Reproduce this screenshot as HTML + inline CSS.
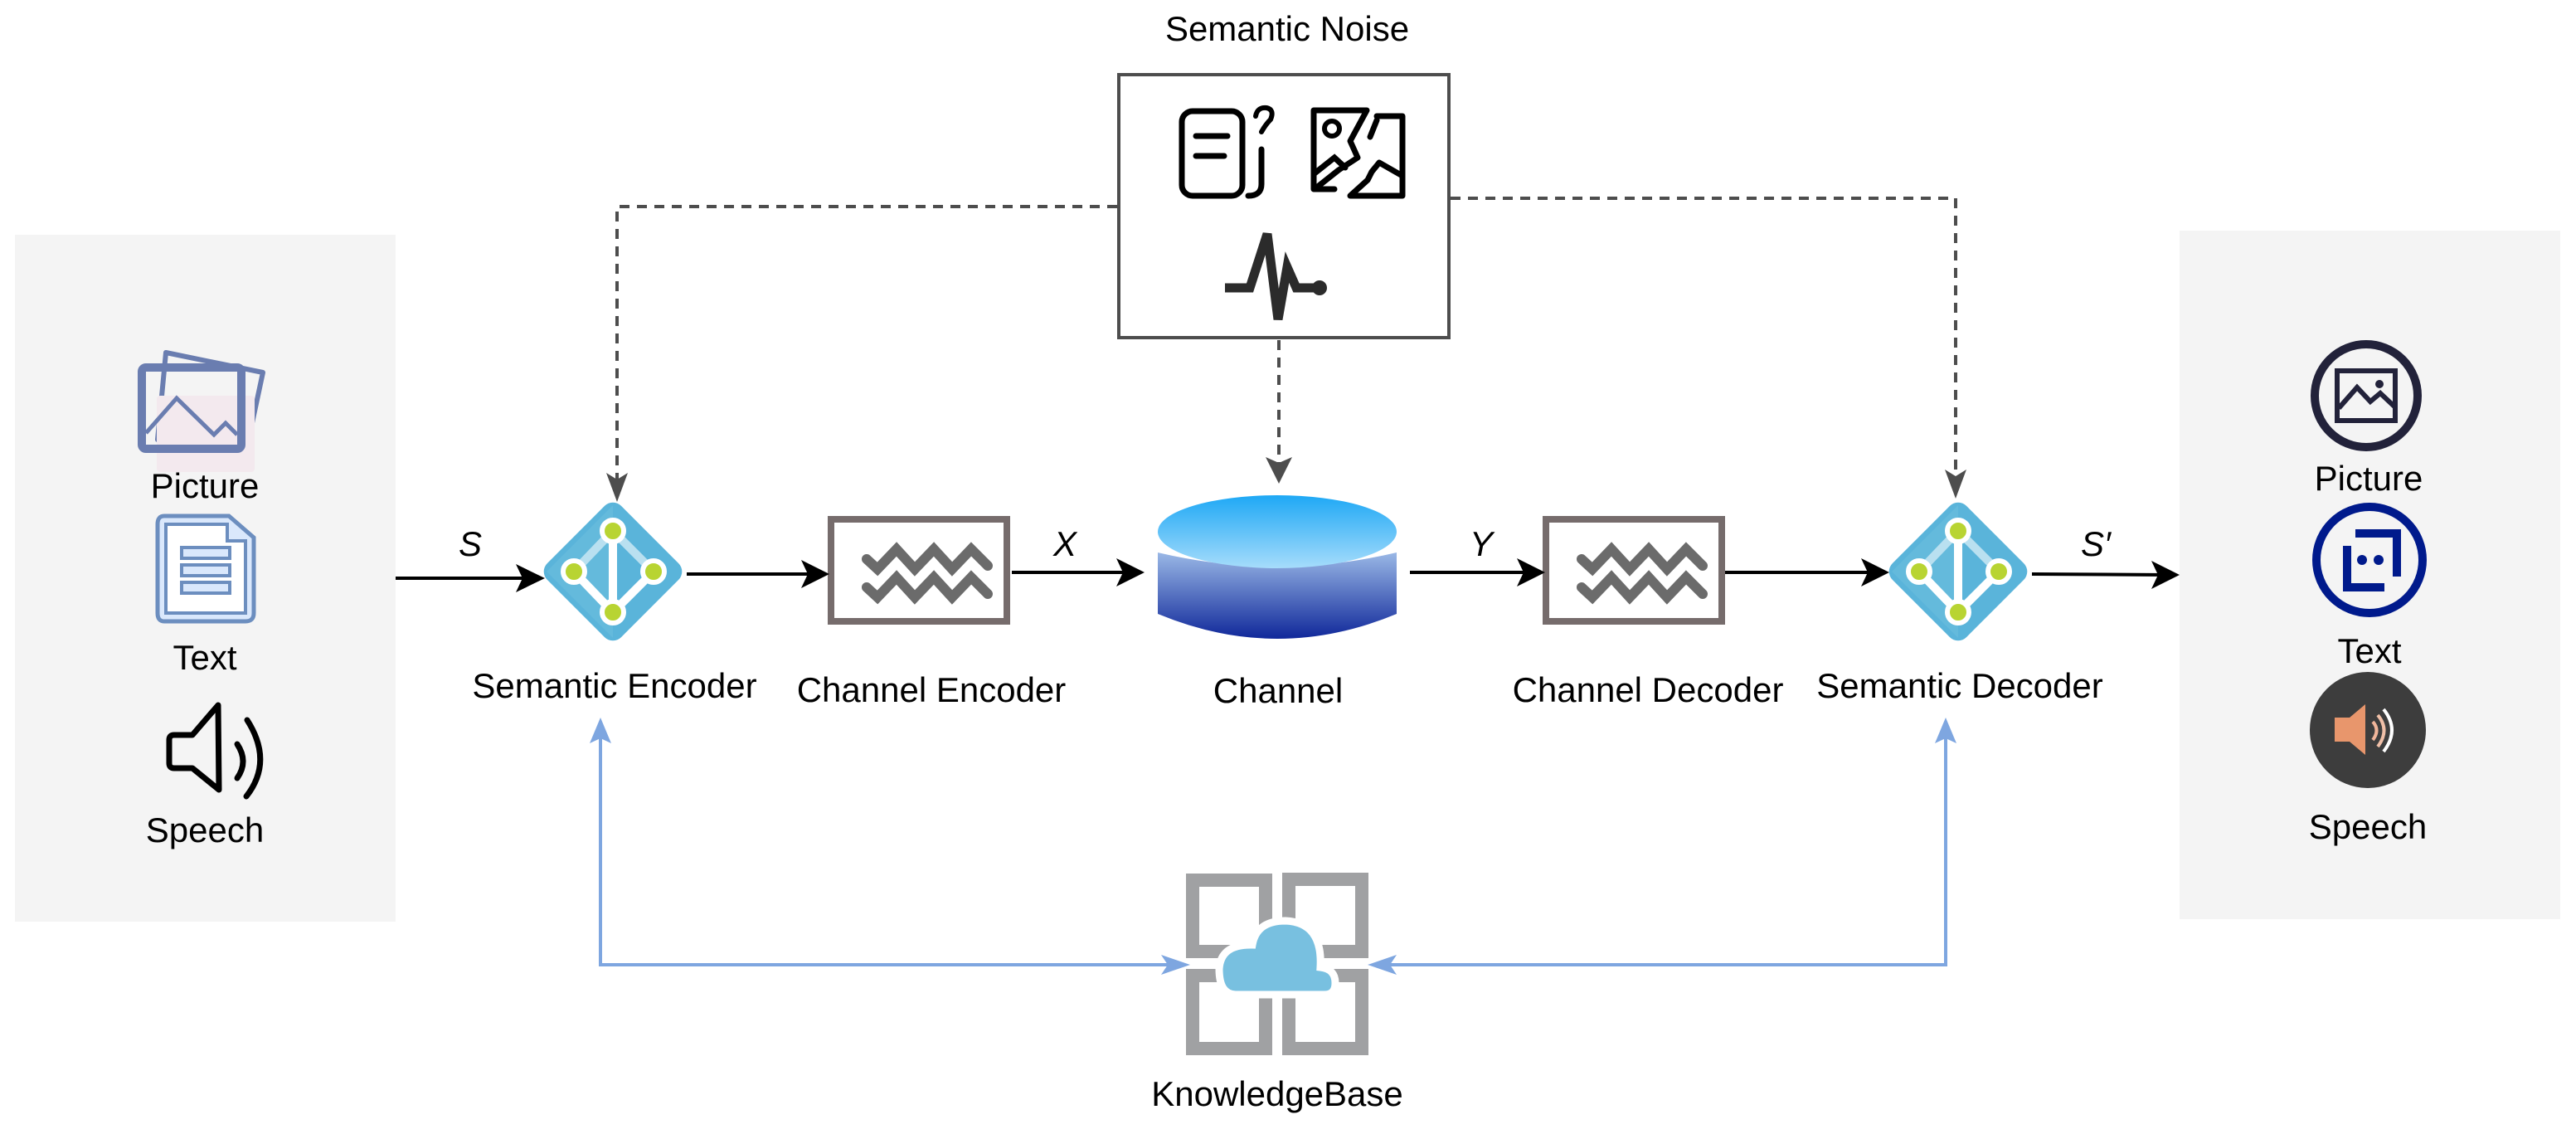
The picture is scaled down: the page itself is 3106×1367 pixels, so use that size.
<!DOCTYPE html>
<html><head><meta charset="utf-8"><style>
html,body{margin:0;padding:0;background:#fff;}
svg{display:block;}
text{font-family:"Liberation Sans",sans-serif;font-size:42px;fill:#000;}
</style></head><body>
<svg width="3106" height="1367" viewBox="0 0 3106 1367" xmlns="http://www.w3.org/2000/svg">
<defs>
<linearGradient id="ctop" x1="0" y1="0" x2="0" y2="1"><stop offset="0" stop-color="#1ea8f5"/><stop offset="1" stop-color="#a6dcfb"/></linearGradient>
<linearGradient id="cbody" x1="0" y1="0" x2="0" y2="1"><stop offset="0" stop-color="#9ab8e6"/><stop offset="1" stop-color="#10289a"/></linearGradient>
<g id="diamond">
<rect x="-63" y="-63" width="126" height="126" rx="14" fill="#5ab4da" transform="rotate(45)"/>
<path d="M-80,0 L0,-80 L0,80 Z" fill="#6bbedd" opacity="0.6"/>
<line x1="0" y1="-49" x2="-47" y2="0" stroke="#b9e0f0" stroke-width="10"/>
<line x1="0" y1="-49" x2="49" y2="0" stroke="#b9e0f0" stroke-width="10"/>
<line x1="-47" y1="0" x2="0" y2="49" stroke="#fff" stroke-width="10"/>
<line x1="49" y1="0" x2="0" y2="49" stroke="#fff" stroke-width="10"/>
<line x1="0" y1="-49" x2="0" y2="49" stroke="#fff" stroke-width="10"/>
<circle cx="0" cy="-49" r="13" fill="#b8d432" stroke="#fff" stroke-width="6"/>
<circle cx="-47" cy="0" r="13" fill="#b8d432" stroke="#fff" stroke-width="6"/>
<circle cx="49" cy="0" r="13" fill="#b8d432" stroke="#fff" stroke-width="6"/>
<circle cx="0" cy="49" r="13" fill="#b8d432" stroke="#fff" stroke-width="6"/>
</g>
<g id="wave">
<rect x="4" y="4" width="212" height="123" fill="#fff" stroke="#766c6c" stroke-width="8"/>
<polyline points="47,52 60,64 83,40 105,64 128,40 150,64 173,40 193,60" fill="none" stroke="#6b6b6b" stroke-width="12" stroke-linejoin="miter" stroke-linecap="round"/>
<polyline points="47,86 60,98 83,74 105,98 128,74 150,98 173,74 193,94" fill="none" stroke="#6b6b6b" stroke-width="12" stroke-linejoin="miter" stroke-linecap="round"/>
</g>
</defs>

<!-- panels -->
<rect x="18" y="283" width="459" height="828" fill="#f4f4f4"/>
<rect x="2628" y="278" width="459" height="830" fill="#f4f4f4"/>

<!-- left icons -->
<path d="M200,425 L317,449 L298,538 L190,530 Z" fill="none" stroke="#6a7db0" stroke-width="6" stroke-linejoin="round"/>
<rect x="189" y="477" width="118" height="92" rx="4" fill="#f3e9ee"/>
<rect x="171" y="443" width="120" height="98" rx="5" fill="#fff" fill-opacity="0" stroke="#6a7db0" stroke-width="10"/>
<polyline points="176,522 213,480 258,524 272,510 286,524" fill="none" stroke="#6a7db0" stroke-width="5"/>
<text x="247" y="600" text-anchor="middle">Picture</text>

<path d="M198,622 L276,622 L306,648 L306,739 Q306,749 296,749 L198,749 Q190,749 190,739 L190,632 Q190,622 198,622 Z" fill="#dae8fc" stroke="#6c8ebf" stroke-width="5"/>
<path d="M200,632 L274,632 L274,652 L296,652 L296,739 L200,739 Z" fill="#fff" stroke="#6c8ebf" stroke-width="4"/>
<rect x="219" y="660" width="58" height="13" fill="#dae8fc" stroke="#6c8ebf" stroke-width="4"/>
<rect x="219" y="681" width="58" height="13" fill="#dae8fc" stroke="#6c8ebf" stroke-width="4"/>
<rect x="219" y="702" width="58" height="13" fill="#dae8fc" stroke="#6c8ebf" stroke-width="4"/>
<text x="247" y="807" text-anchor="middle">Text</text>

<path d="M210,886 L232,886 L263,850 L264,952 L232,926 L210,926 Q204,926 204,920 L204,892 Q204,886 210,886 Z" fill="none" stroke="#000" stroke-width="7" stroke-linejoin="round"/>
<path d="M286,897 Q300,918 286,938" fill="none" stroke="#000" stroke-width="7" stroke-linecap="round"/>
<path d="M298,868 Q330,918 297,960" fill="none" stroke="#000" stroke-width="7" stroke-linecap="round"/>
<text x="247" y="1015" text-anchor="middle">Speech</text>

<!-- right icons -->
<circle cx="2853" cy="477" r="62" fill="none" stroke="#22223a" stroke-width="10"/>
<rect x="2818" y="447" width="70" height="60" fill="none" stroke="#22223a" stroke-width="6"/>
<polyline points="2820,492 2842,467 2858,484 2870,474 2887,490" fill="none" stroke="#22223a" stroke-width="6"/>
<circle cx="2869" cy="463" r="5" fill="#22223a"/>
<text x="2856" y="591" text-anchor="middle">Picture</text>

<circle cx="2857" cy="675" r="64" fill="none" stroke="#001a8c" stroke-width="10"/>
<polyline points="2830,658 2830,708 2875,708" fill="none" stroke="#001a8c" stroke-width="10"/>
<polyline points="2840,643 2890,643 2890,695" fill="none" stroke="#001a8c" stroke-width="10"/>
<circle cx="2848" cy="675" r="6" fill="#001a8c"/>
<circle cx="2868" cy="675" r="6" fill="#001a8c"/>
<text x="2857" y="799" text-anchor="middle">Text</text>

<circle cx="2855" cy="880" r="70" fill="#3d3d3d"/>
<path d="M2815,865 L2833,865 L2852,849 L2852,910 L2833,894 L2815,894 Z" fill="#e8966c"/>
<path d="M2861,870 Q2870,880 2861,892" fill="none" stroke="#f0b59a" stroke-width="4"/>
<path d="M2867,862 Q2882,880 2867,900" fill="none" stroke="#f0c0a8" stroke-width="4"/>
<path d="M2874,855 Q2894,880 2874,906" fill="none" stroke="#fff" stroke-width="4"/>
<text x="2855" y="1011" text-anchor="middle">Speech</text>

<!-- semantic noise -->
<text x="1552" y="49" text-anchor="middle">Semantic Noise</text>
<rect x="1349" y="90" width="398" height="317" fill="#fff" stroke="#4d4d4d" stroke-width="4"/>
<rect x="1425" y="134" width="73" height="102" rx="13" fill="none" stroke="#000" stroke-width="7"/>
<line x1="1442" y1="164" x2="1480" y2="164" stroke="#000" stroke-width="7" stroke-linecap="round"/>
<line x1="1442" y1="188" x2="1476" y2="188" stroke="#000" stroke-width="7" stroke-linecap="round"/>
<path d="M1521,180 L1521,222 Q1521,236 1505,236" fill="none" stroke="#000" stroke-width="7" stroke-linecap="round"/>
<path d="M1514,140 Q1516,129 1527,130 Q1537,132 1532,144 Q1526,150 1521,159" fill="none" stroke="#000" stroke-width="6" stroke-linecap="round"/>
<path d="M1612,133 L1584,133 L1584,228 L1609,228" fill="none" stroke="#000" stroke-width="7" stroke-linecap="round" stroke-linejoin="round"/>
<path d="M1612,133 L1648,133 L1628,170 L1637,190 L1614,205 L1585,228" fill="none" stroke="#000" stroke-width="7" stroke-linecap="round" stroke-linejoin="round"/>
<path d="M1585,209 L1609,190 L1622,202" fill="none" stroke="#000" stroke-width="7" stroke-linecap="round"/>
<path d="M1660,140 L1691,140 L1691,236 L1628,236 L1649,217 L1654,207 L1663,196 L1691,212" fill="none" stroke="#000" stroke-width="7" stroke-linecap="round" stroke-linejoin="round"/>
<path d="M1652,165 L1660,145" fill="none" stroke="#000" stroke-width="7" stroke-linecap="round"/>
<circle cx="1606" cy="155" r="9" fill="none" stroke="#000" stroke-width="6"/>
<polyline points="1477,347 1507,347 1528,282 1541,385 1552,322 1563,347 1590,347" fill="none" stroke="#2b2b2b" stroke-width="11" stroke-linejoin="miter"/>
<circle cx="1591" cy="347" r="9" fill="#2b2b2b"/>

<!-- dashed connectors -->
<g fill="none" stroke="#4d4d4d" stroke-width="4" stroke-dasharray="12,9">
<polyline points="1347,249 744,249 744,582"/>
<polyline points="1749,239 2358,239 2358,578"/>
<line x1="1542" y1="410" x2="1542" y2="560"/>
</g>
<path d="M731,570 L744,605 L757,570 L744,578 Z" fill="#4d4d4d"/>
<path d="M2345,566 L2358,601 L2371,566 L2358,574 Z" fill="#4d4d4d"/>
<path d="M1526,551 L1542,583 L1558,551 L1542,558 Z" fill="#4d4d4d"/>

<!-- cylinder -->
<path d="M1396,666 L1396,740 Q1540,800 1684,740 L1684,666 Q1540,700 1396,666 Z" fill="url(#cbody)"/>
<ellipse cx="1540" cy="641" rx="144" ry="44" fill="url(#ctop)"/>
<text x="1541" y="847" text-anchor="middle">Channel</text>

<!-- nodes -->
<use href="#diamond" x="739" y="689"/>
<use href="#diamond" x="2361" y="689"/>
<use href="#wave" x="998" y="622"/>
<use href="#wave" x="1860" y="622"/>
<text x="741" y="841" text-anchor="middle">Semantic Encoder</text>
<text x="2363" y="841" text-anchor="middle">Semantic Decoder</text>
<text x="1123" y="846" text-anchor="middle">Channel Encoder</text>
<text x="1987" y="846" text-anchor="middle">Channel Decoder</text>

<!-- solid arrows -->
<g stroke="#000" stroke-width="4" fill="none">
<line x1="477" y1="697" x2="640" y2="697"/>
<line x1="828" y1="692" x2="985" y2="692"/>
<line x1="1220" y1="690" x2="1365" y2="690"/>
<line x1="1700" y1="690" x2="1848" y2="690"/>
<line x1="2080" y1="690" x2="2262" y2="690"/>
<line x1="2450" y1="692" x2="2612" y2="693"/>
</g>
<g fill="#000">
<path d="M622,680 L657,697 L622,714 L630,697 Z"/>
<path d="M966,675 L1000,692 L966,709 L974,692 Z"/>
<path d="M1346,673 L1380,690 L1346,707 L1354,690 Z"/>
<path d="M1829,673 L1863,690 L1829,707 L1837,690 Z"/>
<path d="M2244,673 L2278,690 L2244,707 L2252,690 Z"/>
<path d="M2594,676 L2628,693 L2594,710 L2602,693 Z"/>
</g>
<text x="567" y="670" text-anchor="middle" style="font-style:italic">S</text>
<text x="1284" y="670" text-anchor="middle" style="font-style:italic">X</text>
<text x="1786" y="670" text-anchor="middle" style="font-style:italic">Y</text>
<text x="2527" y="670" text-anchor="middle" style="font-style:italic">S′</text>

<!-- knowledge base connectors -->
<g stroke="#7ea6e0" stroke-width="4" fill="none">
<polyline points="724,880 724,1163 1415,1163"/>
<polyline points="2346,880 2346,1163 1668,1163"/>
</g>
<g fill="#7ea6e0">
<path d="M711,896 L724,865 L737,896 L724,890 Z"/>
<path d="M2333,896 L2346,865 L2359,896 L2346,890 Z"/>
<path d="M1400,1151 L1435,1163 L1400,1175 L1408,1163 Z"/>
<path d="M1684,1151 L1649,1163 L1684,1175 L1676,1163 Z"/>
</g>

<!-- knowledge base icon -->
<g fill="none" stroke="#a0a1a3" stroke-width="16">
<rect x="1438" y="1061" width="88" height="86"/>
<rect x="1554" y="1060" width="88" height="87"/>
<rect x="1438" y="1176" width="88" height="88"/>
<rect x="1554" y="1176" width="88" height="88"/>
</g>
<path d="M1490,1199 L1597,1199 Q1610,1199 1610,1185 Q1610,1168 1592,1166 Q1595,1112 1550,1110 Q1515,1110 1510,1139 Q1472,1138 1470,1168 Q1470,1199 1490,1199 Z" fill="#78c0e0" stroke="#fff" stroke-width="9"/>
<text x="1540" y="1333" text-anchor="middle">KnowledgeBase</text>
</svg>
</body></html>
